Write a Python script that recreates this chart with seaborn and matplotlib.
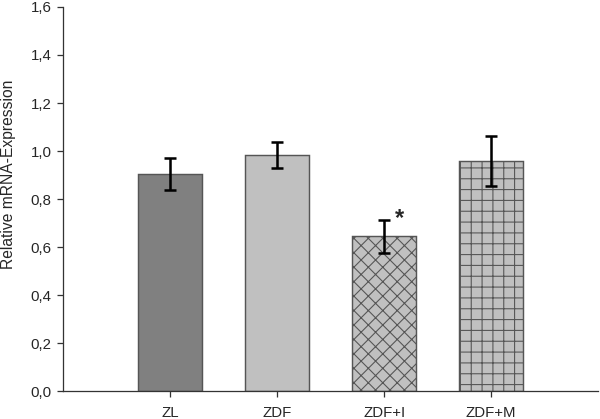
import matplotlib
matplotlib.use("Agg")
import matplotlib.pyplot as plt
import seaborn as sns
import pandas as pd

categories = ["ZL", "ZDF", "ZDF+I", "ZDF+M"]
values = [0.904, 0.984, 0.644, 0.960]
errors = [0.068, 0.055, 0.068, 0.104]
yticks = [0.0, 0.2, 0.4, 0.6, 0.8, 1.0, 1.2, 1.4, 1.6]
ytick_labels = ["0,0", "0,2", "0,4", "0,6", "0,8", "1,0", "1,2", "1,4", "1,6"]
bar_colors = ["#808080", "#c0c0c0", "#c0c0c0", "#c0c0c0"]
hatches = ["", "", "xxx", "++"]
star_label = "*"

sns.set_style("ticks")
plt.rcParams["font.family"] = ["Liberation Sans", "DejaVu Sans"]
plt.rcParams["hatch.linewidth"] = 0.6
plt.rcParams["hatch.color"] = "#404040"

DPI = 130
fig = plt.figure(figsize=(600 / DPI, 419 / DPI), dpi=DPI)
ax = fig.add_axes([0.105, 0.0668, 0.892, 0.9165])

df = pd.DataFrame({"cat": categories, "val": values})
sns.barplot(data=df, x="cat", y="val", hue="cat", palette=bar_colors,
            legend=False, width=0.6, ax=ax, edgecolor="#555555",
            linewidth=0.8, saturation=1, errorbar=None)

for patch, h in zip(ax.patches, hatches):
    if h:
        patch.set_hatch(h)

ax.errorbar(range(len(categories)), values, yerr=errors, fmt="none",
            ecolor="black", elinewidth=1.4, capsize=3.4, capthick=1.4, zorder=5)

ax.text(2.14, 0.72, star_label, fontsize=13, fontweight="bold",
        ha="center", va="center")

ax.set_xlim(-1, 4)
ax.set_ylim(0, 1.6)
ax.set_yticks(yticks)
ax.set_yticklabels(ytick_labels)
ax.set_xlabel("")
ax.set_ylabel("Relative mRNA-Expression", fontsize=8.7)
ax.yaxis.set_label_coords(-0.088, 0.565)
ax.tick_params(axis="both", labelsize=8.3, length=3.3, width=0.7,
               color="#333333", direction="out")
ax.tick_params(axis="x", pad=5)
ax.tick_params(axis="y", pad=3)
for s in ["top", "right"]:
    ax.spines[s].set_visible(False)
for s in ["left", "bottom"]:
    ax.spines[s].set_linewidth(0.7)
    ax.spines[s].set_color("#333333")

fig.savefig("out.png", dpi=DPI)
